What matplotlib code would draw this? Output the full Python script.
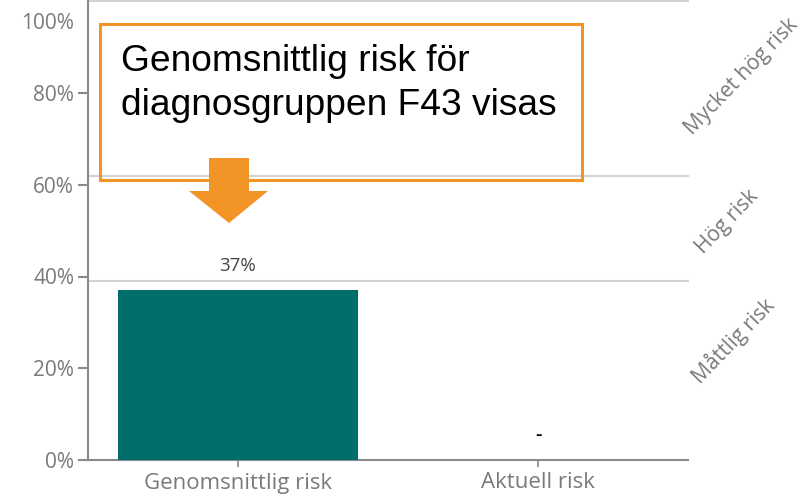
import numpy as np
import matplotlib
matplotlib.use("Agg")
import matplotlib.pyplot as plt
from matplotlib.patches import Rectangle, Polygon

# ---- data ----
categories = ["Genomsnittlig risk", "Aktuell risk"]
values = [37, np.nan]
value_labels = ["37%", "-"]
y_ticks = [0, 20, 40, 60, 80, 100]
y_tick_labels = ["0%", "20%", "40%", "60%", "80%", "100%"]
zone_thresholds = [39, 62, 100]
zone_labels = ["Måttlig risk", "Hög risk", "Mycket hög risk"]
zone_label_y = [25.9, 51.9, 83.5]
zone_label_x = [1.65, 1.63, 1.677]
callout_lines = ["Genomsnittlig risk för", "diagnosgruppen F43 visas"]

W, H = 809, 496
fig = plt.figure(figsize=(W / 100, H / 100), dpi=100)
ax = fig.add_axes([88 / W, 36 / H, 600 / W, (460 - 1.25) / H])

TEAL = "#006E6A"
ORANGE = "#F39427"
GRAY = "#7a7a7a"
SPINE = "#8a8a8a"
GRID = "#d3d3d3"

x = np.arange(len(categories))
ax.bar(x, values, width=0.8, color=TEAL, zorder=3)
ax.set_xlim(-0.5, 1.5)
ax.set_ylim(0, 100)

# threshold lines
for t in zone_thresholds:
    ax.axhline(t, color=GRID, lw=1.5, zorder=1, clip_on=False)

# value labels
for xi, v, lab in zip(x, values, value_labels):
    if np.isnan(v):
        ax.annotate(lab, xy=(xi, 0), xytext=(0, 25), textcoords="offset pixels",
                    ha="center", va="center", fontsize=14, color="black",
                    fontfamily="Liberation Sans", fontweight="bold")
    else:
        ax.annotate(lab, xy=(xi, v), xytext=(0, 24.5), textcoords="offset pixels",
                    ha="center", va="center", fontsize=13.5, color="#444444",
                    fontfamily="Open Sans")

# spines & ticks
for s in ["top", "right"]:
    ax.spines[s].set_visible(False)
for s in ["left", "bottom"]:
    ax.spines[s].set_color(SPINE)
    ax.spines[s].set_linewidth(1.5)

ax.set_xticks(x)
ax.set_xticklabels(categories, fontfamily="Open Sans", fontsize=16, color=GRAY)
ax.tick_params(axis="x", length=5, width=1.2, color=SPINE, pad=4)

ax.set_yticks(y_ticks[:-1])
ax.set_yticklabels(y_tick_labels[:-1], fontfamily="Open Sans", fontsize=15, color=GRAY)
ax.tick_params(axis="y", length=7.5, width=1.5, color=SPINE, pad=2.4)
ax.annotate(y_tick_labels[-1], xy=(0, y_ticks[-1]), xycoords=("axes fraction", "data"),
            xytext=(-14, -22), textcoords="offset pixels", ha="right", va="center",
            fontfamily="Open Sans", fontsize=15, color=GRAY, annotation_clip=False)

# zone labels
for lab, yy, xx in zip(zone_labels, zone_label_y, zone_label_x):
    ax.text(xx, yy, lab, rotation=46, rotation_mode="anchor", ha="center", va="center",
            fontfamily="Open Sans", fontsize=15.2, color=GRAY, clip_on=False)

# callout box
def fx(px):
    return px / W

def fy(py):
    return 1 - py / H

box = Rectangle((fx(100), fy(180)), fx(582) - fx(100), fy(24) - fy(180),
                transform=fig.transFigure, fill=False, edgecolor=ORANGE, lw=2.2, zorder=10)
fig.add_artist(box)
arrow_px = [(209, 158), (249, 158), (249, 191), (268, 191), (229, 223), (189, 191), (209, 191)]
arrow = Polygon([(fx(a), fy(b)) for a, b in arrow_px], closed=True, transform=fig.transFigure,
                facecolor=ORANGE, edgecolor="none", zorder=11)
fig.add_artist(arrow)
for line, base in zip(callout_lines, [71, 115]):
    fig.text(fx(121), fy(base), line, ha="left", va="baseline", fontsize=26.7,
             fontfamily="Liberation Sans", color="black", zorder=12)

fig.savefig("out.png", dpi=100)
